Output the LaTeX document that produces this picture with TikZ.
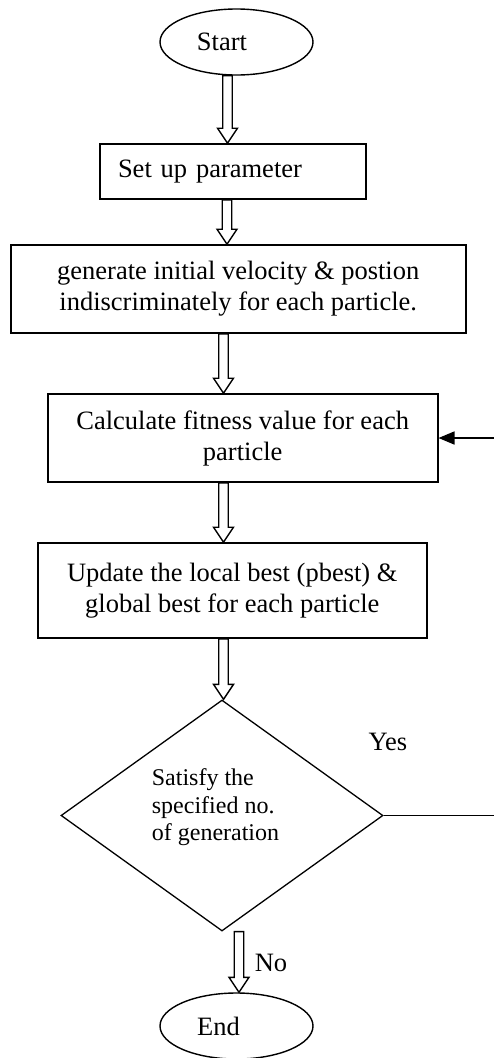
\documentclass[tikz,border=0pt]{standalone}
\usepackage{fontspec}
\setmainfont{Liberation Serif}
\usetikzlibrary{shapes.geometric,arrows.meta,calc}
\tikzset{
  mainfont/.style={font=\fontsize{26.5pt}{31pt}\selectfont},
  boxnode/.style={draw, line width=1.6pt, rectangle, inner sep=0pt, align=center, mainfont},
  ovalnode/.style={draw, line width=1.4pt, ellipse, inner sep=0pt, minimum width=153pt, minimum height=66pt},
  decnode/.style={draw, line width=1.3pt, diamond, inner sep=0pt, minimum width=322pt, minimum height=231pt},
  hollow/.style={draw, line width=1.4pt, line join=miter, fill=white},
  conn/.style={draw, line width=1.6pt, -{Triangle[length=16pt,width=13pt]}},
  lbl/.style={mainfont, inner sep=0pt}
}
\newcommand\hollowarrow[3]{%
  \path[hollow] let \p1=(#2), \p2=(#3) in
    (#1pt-4.75pt,\y1) -- (#1pt+4.75pt,\y1) -- (#1pt+4.75pt,\y2+15pt)
    -- (#1pt+10pt,\y2+15pt) -- (#1pt,\y2) -- (#1pt-10pt,\y2+15pt)
    -- (#1pt-4.75pt,\y2+15pt) -- cycle;}
\begin{document}
\begin{tikzpicture}[x=1pt,y=-1pt]
\useasboundingbox (0,0) rectangle (493,1058);
\node[ovalnode, label={[lbl, xshift=-14.5pt]center:Start}] (start) at (236.5,42) {};
\node[boxnode, minimum width=266pt, minimum height=55pt, text width=230pt, align=left] (box1) at (233,171.5) {Set up parameter};
\node[boxnode, minimum width=455pt, minimum height=88pt] (box2) at (238.2,289)
  {generate initial velocity \& postion\\indiscriminately for each particle.};
\node[boxnode, minimum width=390pt, minimum height=88pt] (box3) at (242.7,438)
  {Calculate fitness value for each\\particle};
\node[boxnode, minimum width=389pt, minimum height=95pt] (box4) at (232.3,590.5)
  {Update the local best (pbest) \&\\global best for each particle};
\node[decnode, label={[xshift=-6.5pt, yshift=8pt, align=left, inner sep=0pt,
   font=\fontsize{24pt}{27.5pt}\selectfont]center:{Satisfy the\\specified no.\\of generation}}] (dec) at (222,815.5) {};
\node[ovalnode, label={[lbl, xshift=-18pt]center:End}] (end) at (236.5,1026) {};
\node[lbl] (yes) at (388,742) {Yes};
\node[lbl] (no) at (271,963) {No};
\hollowarrow{227.5}{start.south}{box1.north}
\hollowarrow{227}{box1.south}{box2.north}
\hollowarrow{223.5}{box2.south}{box3.north}
\hollowarrow{223.5}{box3.south}{box4.north}
\hollowarrow{223.5}{box4.south}{dec.north}
\hollowarrow{239}{dec.south}{end.north}
\coordinate (rx) at (505,815.5);
\draw[conn] (dec.east) -- (dec.east -| rx) |- (box3.east);
\end{tikzpicture}
\end{document}
